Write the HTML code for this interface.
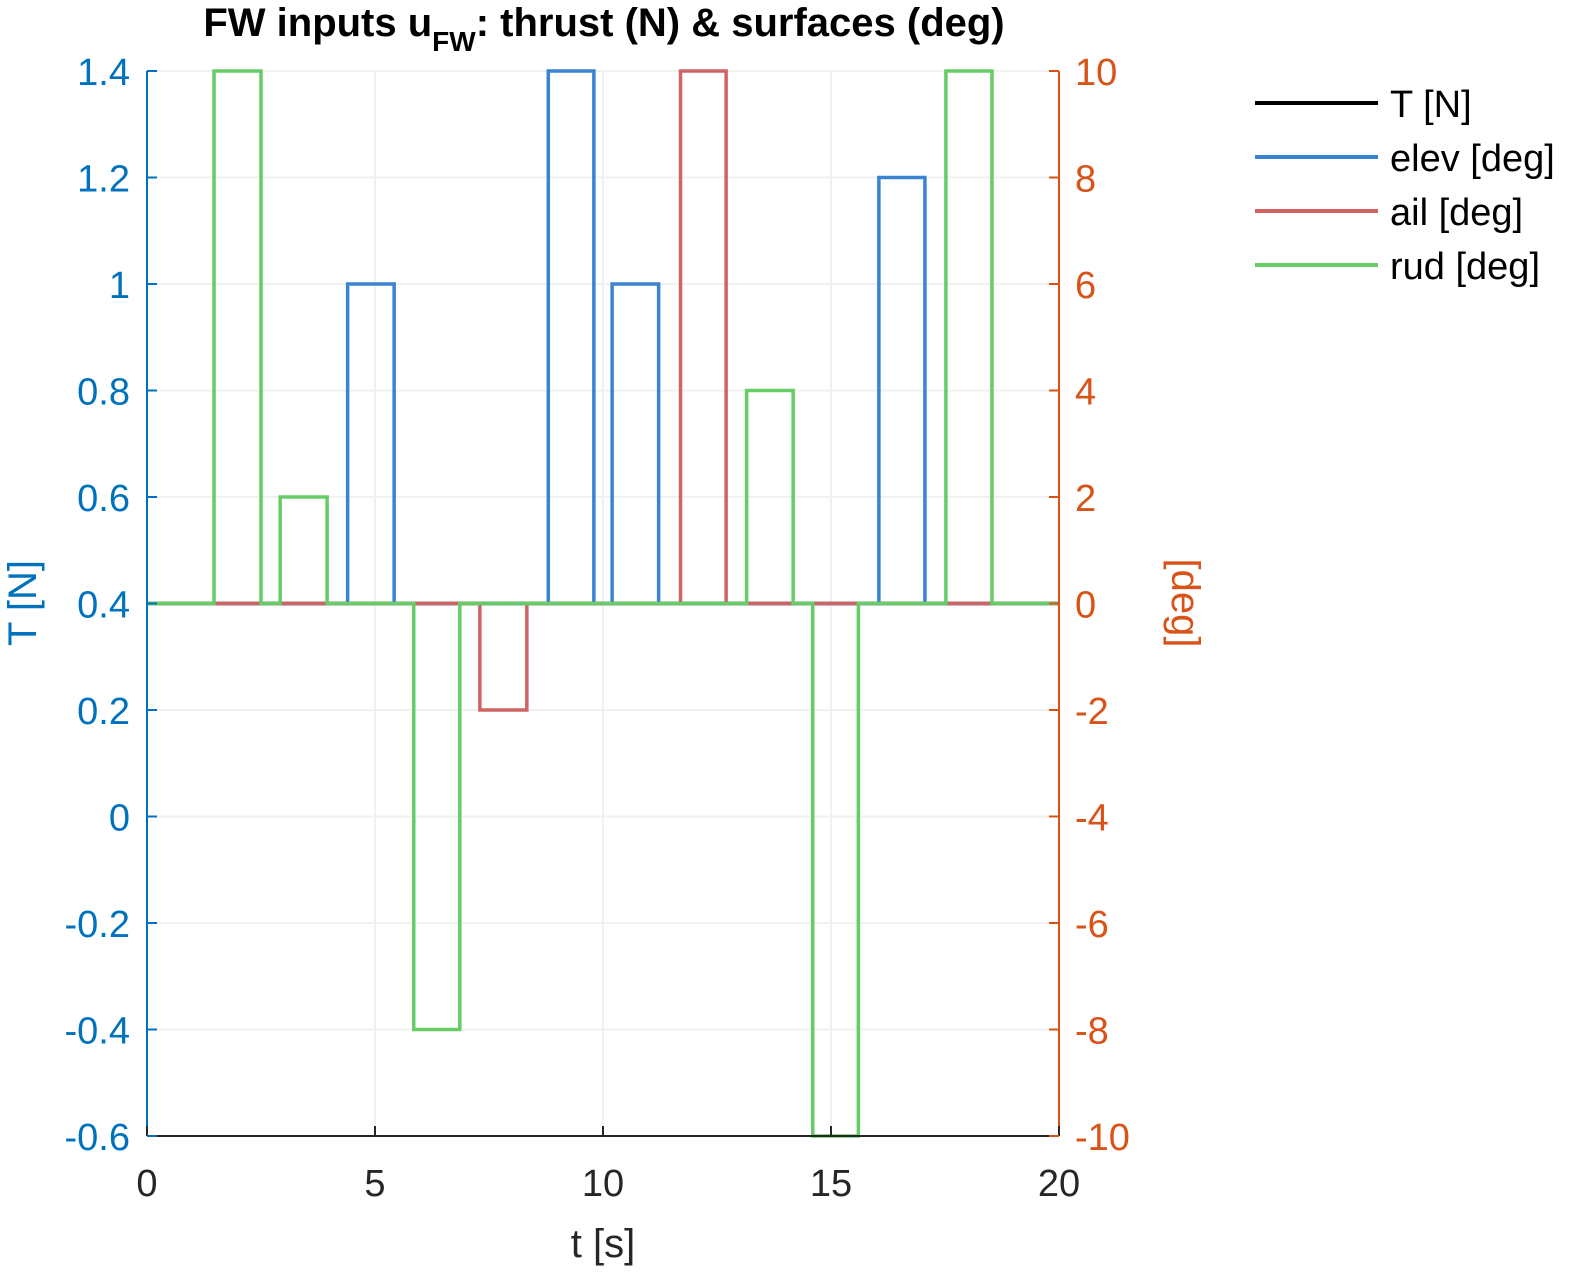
<!DOCTYPE html>
<html><head><meta charset="utf-8"><style>
body{margin:0;background:#fff;}
svg text{font-family:"Liberation Sans",Arial,sans-serif;}
</style></head><body>
<svg id="chart" width="1574" height="1273" xmlns="http://www.w3.org/2000/svg">
<rect width="1574" height="1273" fill="#fff"/>
<g id="grid"></g>
<g id="series"></g>
<g id="axes"></g>
<text x="604" y="36" text-anchor="middle" font-size="40" font-weight="bold">FW inputs u<tspan font-size="28" dy="15">FW</tspan><tspan dy="-15">: thrust (N) &amp; surfaces (deg)</tspan></text>
<text x="603" y="1257" text-anchor="middle" font-size="40" fill="#262626">t [s]</text>
<text transform="translate(36,603) rotate(-90)" text-anchor="middle" font-size="40" fill="#0072BD">T [N]</text>
<text transform="translate(1172,603) rotate(90)" text-anchor="middle" font-size="40" fill="#D95319">[deg]</text>
<g id="legend"></g>
</svg>
<script>
const xTicks=[0,5,10,15,20];
const leftTicks=[-0.6,-0.4,-0.2,0,0.2,0.4,0.6,0.8,1,1.2,1.4];
const rightTicks=[-10,-8,-6,-4,-2,0,2,4,6,8,10];
const thrustValue=[0.4];
const elevStart=[4.4,8.8,10.2,16.05];
const elevEnd=[5.42,9.8,11.22,17.06];
const elevAmp=[6,10,6,8];
const ailStart=[5.85,7.3,11.7];
const ailEnd=[6.85,8.33,12.7];
const ailAmp=[0,-2,10];
const rudStart=[1.47,2.92,5.85,13.15,14.6,17.52];
const rudEnd=[2.5,3.95,6.86,14.17,15.6,18.53];
const rudAmp=[10,2,-8,4,-10,10];
const L=147,R=1059,T=71,B=1136;
const X=t=>L+(t/20)*(R-L);
const YL=v=>T+(1.4-v)/2.0*(B-T);
const YR=v=>T+(10-v)/20*(B-T);
const NS="http://www.w3.org/2000/svg";
function mk(tag,attrs,parent){const e=document.createElementNS(NS,tag);for(const k in attrs)e.setAttribute(k,attrs[k]);parent.appendChild(e);return e;}
const grid=document.getElementById('grid'),axes=document.getElementById('axes'),ser=document.getElementById('series');
xTicks.forEach(t=>{const g=mk('line',{x1:X(t),x2:X(t),y1:T,y2:B,stroke:'#f1f1f1','stroke-width':2},grid);
});
leftTicks.forEach(v=>{const g=mk('line',{x1:L,x2:R,y1:YL(v),y2:YL(v),stroke:'#f1f1f1','stroke-width':2},grid);
});
function pathFor(st,en,amp){let d=`M${X(0)},${YR(0)}`;for(let i=0;i<st.length;i++){d+=` L${X(st[i])},${YR(0)} L${X(st[i])},${YR(amp[i])} L${X(en[i])},${YR(amp[i])} L${X(en[i])},${YR(0)}`;}d+=` L${X(20)},${YR(0)}`;return d;}
const th=mk('line',{x1:X(0),x2:X(20),y1:YL(thrustValue[0]),y2:YL(thrustValue[0]),stroke:'#000','stroke-width':3.5},ser);

const pe=mk('path',{d:pathFor(elevStart,elevEnd,elevAmp),fill:'none',stroke:'#3C82D2','stroke-width':3.5},ser);

const pa=mk('path',{d:pathFor(ailStart,ailEnd,ailAmp),fill:'none',stroke:'#D06464','stroke-width':3.5},ser);

const pr=mk('path',{d:pathFor(rudStart,rudEnd,rudAmp),fill:'none',stroke:'#66CC66','stroke-width':3.5},ser);

const ax=mk('line',{x1:L,x2:R,y1:B,y2:B,stroke:'#262626','stroke-width':2},axes);

const al=mk('line',{x1:L,x2:L,y1:T,y2:B,stroke:'#0072BD','stroke-width':2},axes);

const ar=mk('line',{x1:R,x2:R,y1:T,y2:B,stroke:'#D95319','stroke-width':2},axes);

xTicks.forEach(t=>{mk('line',{x1:X(t),x2:X(t),y1:B,y2:B-10,stroke:'#262626','stroke-width':2},axes);
const tx=mk('text',{x:X(t),y:B+60,'text-anchor':'middle','font-size':38,fill:'#262626'},axes);tx.textContent=t;
});
leftTicks.forEach(v=>{mk('line',{x1:L,x2:L+10,y1:YL(v),y2:YL(v),stroke:'#0072BD','stroke-width':2},axes);
const tx=mk('text',{x:L-17,y:YL(v)+14,'text-anchor':'end','font-size':38,fill:'#0072BD'},axes);tx.textContent=String(+v.toFixed(1));
});
rightTicks.forEach(v=>{mk('line',{x1:R,x2:R-10,y1:YR(v),y2:YR(v),stroke:'#D95319','stroke-width':2},axes);
const tx=mk('text',{x:R+16,y:YR(v)+14,'text-anchor':'start','font-size':38,fill:'#D95319'},axes);tx.textContent=v;
});
const leg=document.getElementById('legend');
const legNames=['T [N]','elev [deg]','ail [deg]','rud [deg]'];
const legColors=['#000','#3C82D2','#D06464','#66CC66'];
legNames.forEach((n,i)=>{const y=103+i*54;
const ln=mk('line',{x1:1255,x2:1378,y1:y,y2:y,stroke:legColors[i],'stroke-width':4},leg);

const tx=mk('text',{x:1390,y:y+14,'font-size':38,fill:'#000'},leg);tx.textContent=n;
});
</script>
</body></html>
